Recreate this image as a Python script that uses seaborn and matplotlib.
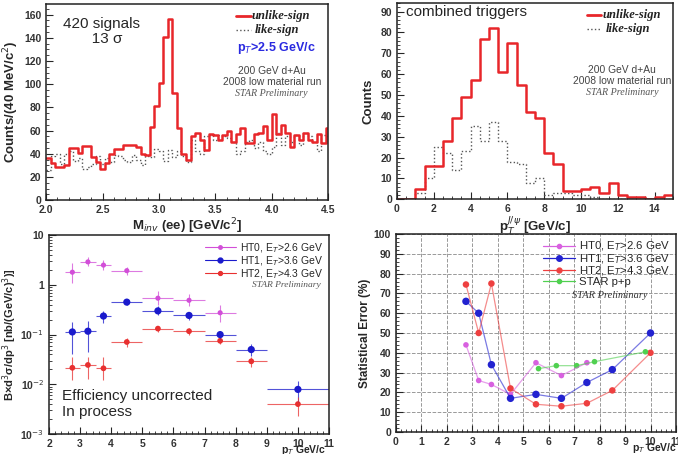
import numpy as np
import pandas as pd
import seaborn as sns
import matplotlib.pyplot as plt
from matplotlib.lines import Line2D
from matplotlib.ticker import MultipleLocator, LogLocator, NullFormatter

sns.set_style("ticks")
plt.rcParams['font.sans-serif'] = ['Liberation Sans', 'DejaVu Sans']
plt.rcParams['font.family'] = 'sans-serif'

RED = '#e8262a'
GRAY = '#555555'

# --- top left: invariant mass, 40 MeV bins from 2.0
mass_edges = [round(2.0 + 0.04 * i, 2) for i in range(64)]
mass_unlike = [36, 32, 29, 29, 30, 45, 45, 41, 47, 47, 37, 33, 27, 32, 40, 44, 44, 48, 48, 48,
               46, 40, 39, 63, 81, 101, 141, 156, 92, 62, 40, 35, 55, 58, 52, 43, 57, 56, 52, 56,
               60, 50, 57, 62, 49, 49, 57, 58, 64, 52, 74, 57, 65, 58, 46, 56, 52, 58, 52, 50,
               57, 49, 62]
mass_like = [26, 38, 40, 31, 40, 42, 34, 36, 27, 29, 31, 38, 31, 36, 33, 39, 38, 35, 33, 39,
             35, 30, 38, 37, 44, 42, 34, 43, 37, 42, 38, 33, 52, 42, 40, 55, 56, 52, 56, 55,
             54, 50, 40, 42, 50, 52, 45, 50, 42, 40, 46, 58, 48, 55, 50, 56, 48, 58, 55, 50,
             42, 56, 55]

# --- top right: pT of J/psi, 0.5 GeV bins
pt_edges = [0.5 * i for i in range(31)]
pt_unlike = [0, 0, 5, 16, 16, 28, 39, 49, 57, 77, 82, 61, 75, 55, 42, 39, 22, 17, 4, 4,
             5, 6, 3, 8, 2, 1, 1, 0, 1, 2]
pt_like = [0, 0, 3, 10, 25, 22, 14, 23, 35, 28, 37, 28, 18, 17, 8, 10, 2, 3, 3, 2,
           2, 1, 0, 0, 0, 0, 0, 0, 0, 0]

# --- bottom left: cross section per trigger
ht0_pt = [2.75, 3.25, 3.75, 4.5, 5.5, 6.5, 7.5]
ht0_xerr = [0.25, 0.25, 0.25, 0.5, 0.5, 0.5, 0.5]
ht0_y = [1.8, 2.9, 2.5, 1.93, 0.54, 0.49, 0.275]
ht0_lo = [1.1, 2.4, 2.0, 1.6, 0.4, 0.38, 0.18]
ht0_hi = [2.7, 3.6, 3.2, 2.3, 0.75, 0.65, 0.4]

ht1_pt = [2.75, 3.25, 3.75, 4.5, 5.5, 6.5, 7.5, 8.5, 10]
ht1_xerr = [0.25, 0.25, 0.25, 0.5, 0.5, 0.5, 0.5, 0.5, 1.0]
ht1_y = [0.113, 0.117, 0.236, 0.45, 0.30, 0.243, 0.10, 0.05, 0.0079]
ht1_lo = [0.04, 0.045, 0.17, 0.39, 0.25, 0.20, 0.078, 0.037, 0.0045]
ht1_hi = [0.18, 0.19, 0.30, 0.52, 0.37, 0.28, 0.12, 0.064, 0.0115]

ht2_pt = [2.75, 3.25, 3.75, 4.5, 5.5, 6.5, 7.5, 8.5, 10]
ht2_xerr = [0.25, 0.25, 0.25, 0.5, 0.5, 0.5, 0.5, 0.5, 1.0]
ht2_y = [0.0215, 0.0245, 0.021, 0.071, 0.132, 0.117, 0.075, 0.029, 0.004]
ht2_lo = [0.012, 0.013, 0.012, 0.056, 0.115, 0.10, 0.065, 0.022, 0.0023]
ht2_hi = [0.036, 0.036, 0.036, 0.087, 0.15, 0.134, 0.086, 0.035, 0.0055]

# --- bottom right: statistical error
err_ht0 = [44, 26, 24, 19, 35, 28.5, 35]
err_ht1 = [66, 60, 34, 17, 19, 17, 25, 31.5, 50]
err_ht2 = [74.5, 50, 75, 22, 14, 13, 14.5, 21, 40]
pp_pt = [5.6, 6.3, 7.1, 7.8, 9.8]
err_pp = [32, 33.5, 33.5, 35.5, 40.5]

labels_ht = ['HT0, E$_T$>2.6 GeV', 'HT1, E$_T$>3.6 GeV', 'HT2, E$_T$>4.3 GeV']
col_ht = ['#d24ed8', '#1a1acc', '#e83030']

fig = plt.figure(figsize=(6.78, 4.54), dpi=100)
ax1 = fig.add_axes([0.068, 0.559, 0.416, 0.432])
ax2 = fig.add_axes([0.5855, 0.561, 0.407, 0.432])
ax3 = fig.add_axes([0.0723, 0.044, 0.413, 0.438])
ax4 = fig.add_axes([0.584, 0.0485, 0.413, 0.436])

serif = ['Liberation Serif', 'DejaVu Serif']


def style(ax):
    for s in ax.spines.values():
        s.set_linewidth(1.1)
        s.set_color('#222222')
    ax.tick_params(direction='in', which='both', labelsize=7.5, top=False, right=False)
    ax.tick_params(which='major', length=5)
    ax.tick_params(which='minor', length=2.5)
    for lab in ax.get_xticklabels() + ax.get_yticklabels():
        lab.set_fontweight('bold')
        lab.set_color('#333333')


def hist_legend(ax, x, y):
    ax.add_line(Line2D([x, x + 0.05], [y, y], transform=ax.transAxes, color=RED, lw=2))
    ax.text(x + 0.055, y, 'unlike-sign', transform=ax.transAxes, va='center', fontsize=9,
            fontweight='bold', style='italic', family=serif, color='#222222')
    ax.add_line(Line2D([x, x + 0.05], [y - 0.072, y - 0.072], transform=ax.transAxes,
                       color=GRAY, lw=1, ls=':'))
    ax.text(x + 0.065, y - 0.072, 'like-sign', transform=ax.transAxes, va='center', fontsize=9,
            fontweight='bold', style='italic', family=serif, color='#222222')


def info_text(ax, x, y):
    ax.text(x, y, '200 GeV d+Au', transform=ax.transAxes, fontsize=7.4,
            ha='center', va='center', color='#444444')
    ax.text(x, y - 0.055, '2008 low material run', transform=ax.transAxes, fontsize=7.4,
            ha='center', va='center', color='#444444')
    ax.text(x, y - 0.115, 'STAR Preliminary', transform=ax.transAxes, fontsize=7.2,
            ha='center', va='center', color='#555555', style='italic', family=serif)


def step_hist(ax, edges, counts, **kw):
    centers = [(a + b) / 2 for a, b in zip(edges[:-1], edges[1:])]
    d = pd.DataFrame({'x': centers, 'w': counts})
    sns.histplot(data=d, x='x', weights='w', bins=edges, element='step', fill=False,
                 ax=ax, **kw)


# top left
step_hist(ax1, mass_edges, mass_like, color=GRAY, linestyle=':', linewidth=1)
step_hist(ax1, mass_edges, mass_unlike, color=RED, linewidth=1.8)
ax1.set_xlim(2, 4.5)
ax1.set_ylim(0, 169)
ax1.xaxis.set_major_locator(MultipleLocator(0.5))
ax1.xaxis.set_minor_locator(MultipleLocator(0.1))
ax1.yaxis.set_major_locator(MultipleLocator(20))
ax1.yaxis.set_minor_locator(MultipleLocator(5))
ax1.set_ylabel('Counts/(40 MeV/c$^2$)', fontsize=9.5, fontweight='bold', labelpad=2)
ax1.set_xlabel('M$_{inv}$ (ee) [GeV/c$^2$]', fontsize=9.5, fontweight='bold', labelpad=1)
ax1.text(0.195, 0.86, '420 signals\n   13 σ', transform=ax1.transAxes, fontsize=11,
         ha='center', va='center', linespacing=1.1)
hist_legend(ax1, 0.675, 0.94)
ax1.text(0.955, 0.775, 'p$_T$>2.5 GeV/c', transform=ax1.transAxes, fontsize=9, ha='right',
         va='center', color='#2a2ae0', fontweight='bold')
info_text(ax1, 0.8, 0.66)
style(ax1)

# top right
step_hist(ax2, pt_edges, pt_like, color=GRAY, linestyle=':', linewidth=1)
step_hist(ax2, pt_edges, pt_unlike, color=RED, linewidth=1.8)
ax2.set_xlim(0, 15)
ax2.set_ylim(0, 94)
ax2.xaxis.set_major_locator(MultipleLocator(2))
ax2.xaxis.set_minor_locator(MultipleLocator(0.5))
ax2.yaxis.set_major_locator(MultipleLocator(10))
ax2.yaxis.set_minor_locator(MultipleLocator(2))
ax2.set_ylabel('Counts', fontsize=9.5, fontweight='bold', labelpad=4)
ax2.set_xlabel('p$_T^{J/\\psi}$ [GeV/c]', fontsize=9.5, fontweight='bold', labelpad=1)
ax2.text(0.033, 0.955, 'combined triggers', transform=ax2.transAxes, fontsize=11,
         va='center')
hist_legend(ax2, 0.69, 0.94)
info_text(ax2, 0.815, 0.66)
style(ax2)

# bottom left
series = [(ht0_pt, ht0_xerr, ht0_y, ht0_lo, ht0_hi, 2.5),
          (ht1_pt, ht1_xerr, ht1_y, ht1_lo, ht1_hi, 3.5),
          (ht2_pt, ht2_xerr, ht2_y, ht2_lo, ht2_hi, 2.8)]
handles = []
for (x, xe, y, lo, hi, ms), c, lab in zip(series, col_ht, labels_ht):
    y = np.array(y)
    yerr = [y - np.array(lo), np.array(hi) - y]
    ax3.errorbar(x, y, xerr=xe, yerr=yerr, fmt='none', ecolor=c, elinewidth=0.8, alpha=0.75)
    sns.scatterplot(x=x, y=y, color=c, s=ms ** 2 * 2.2, edgecolor='none', ax=ax3)
    handles.append(Line2D([], [], color=c, lw=0.8, marker='o', markersize=ms))
ax3.set_yscale('log')
ax3.set_xlim(2, 11)
ax3.set_ylim(1e-3, 10)
ax3.xaxis.set_major_locator(MultipleLocator(1))
ax3.xaxis.set_minor_locator(MultipleLocator(0.2))
ax3.yaxis.set_minor_locator(LogLocator(base=10, subs=np.arange(2, 10)))
ax3.yaxis.set_minor_formatter(NullFormatter())
ax3.set_yticks([1e-3, 1e-2, 1e-1, 1, 10])
ax3.set_yticklabels(['10$^{-3}$', '10$^{-2}$', '10$^{-1}$', '1', '10'])
ax3.set_ylabel('B×d$^3$σ/dp$^3$ [nb/(GeV/c)$^3$)]', fontsize=8, fontweight='bold', labelpad=1)
ax3.set_xlabel('p$_T$ GeV/c', fontsize=7.5, fontweight='bold', labelpad=0)
ax3.xaxis.set_label_coords(0.91, -0.045)
ax3.legend(handles, labels_ht, loc='upper right', frameon=False, fontsize=7.5,
           handlelength=3, borderaxespad=0.15, labelspacing=-0.05, handletextpad=0.4)
ax3.text(0.97, 0.75, 'STAR Preliminary', transform=ax3.transAxes, fontsize=6.8,
         ha='right', va='center', color='#555555', style='italic', family=serif)
ax3.text(0.046, 0.15, 'Efficiency uncorrected\nIn process', transform=ax3.transAxes,
         fontsize=11, va='center', linespacing=1.2)
style(ax3)

# bottom right
df = pd.concat([
    pd.DataFrame({'pt': ht0_pt, 'err': err_ht0, 'set': labels_ht[0]}),
    pd.DataFrame({'pt': ht1_pt, 'err': err_ht1, 'set': labels_ht[1]}),
    pd.DataFrame({'pt': ht2_pt, 'err': err_ht2, 'set': labels_ht[2]}),
    pd.DataFrame({'pt': pp_pt, 'err': err_pp, 'set': 'STAR p+p'}),
])
pal = {labels_ht[0]: '#d860e0', labels_ht[1]: '#2222d0', labels_ht[2]: '#ee4040',
       'STAR p+p': '#50d050'}
sizes = {labels_ht[0]: 3, labels_ht[1]: 4, labels_ht[2]: 3.5, 'STAR p+p': 3}
for name in pal:
    d = df[df['set'] == name]
    sns.lineplot(data=d, x='pt', y='err', color=pal[name], lw=0.9, alpha=0.6,
                 sort=False, ax=ax4)
    sns.scatterplot(data=d, x='pt', y='err', color=pal[name], s=sizes[name] ** 2 * 1.8,
                    edgecolor='none', ax=ax4)
hs = [Line2D([], [], color=pal[n], lw=0.9, marker='o', markersize=sizes[n]) for n in pal]
ax4.legend(hs, list(pal), loc='upper right', frameon=False, fontsize=8.2,
           handlelength=2.8, borderaxespad=0.1, labelspacing=-0.1, handletextpad=0.4)
ax4.text(0.9, 0.69, 'STAR Preliminary', transform=ax4.transAxes, fontsize=7.5,
         ha='right', va='center', color='#333333', style='italic', family=serif)
ax4.set_xlim(0, 11)
ax4.set_ylim(0, 100)
ax4.xaxis.set_major_locator(MultipleLocator(1))
ax4.xaxis.set_minor_locator(MultipleLocator(0.2))
ax4.yaxis.set_major_locator(MultipleLocator(10))
ax4.yaxis.set_minor_locator(MultipleLocator(2))
ax4.grid(True, which='major', color='#999999', ls='--', lw=0.7)
ax4.set_axisbelow(True)
ax4.set_ylabel('Statistical Error (%)', fontsize=8.5, fontweight='bold', labelpad=2)
ax4.set_xlabel('p$_T$ GeV/c', fontsize=7.5, fontweight='bold', labelpad=0)
ax4.xaxis.set_label_coords(0.925, -0.045)
style(ax4)

fig.savefig('out.png', dpi=100)
